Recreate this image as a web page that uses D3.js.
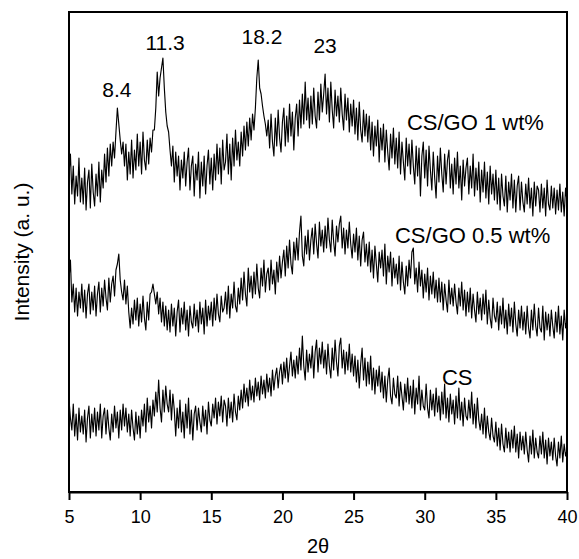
<!DOCTYPE html>
<html>
<head>
<meta charset="utf-8">
<script src="https://cdn.jsdelivr.net/npm/d3@7"></script>
<style>
  body { margin: 0; background: #fff; }
  text { font-family: "Liberation Sans", Arial, sans-serif; fill: #000; }
</style>
</head>
<body>
<div id="chart"></div>
<script>
// Scan Settings (2theta Grid)
const scanStart = 5;
const scanStep = 0.1;

// Intensity (a. u.) of Each Pattern, Already Stacked, One Row per Degree
const cs = [
  92, 74, 62, 88, 56, 78, 52, 84, 60, 76,
  58, 82, 50, 74, 86, 54, 78, 60, 84, 56,
  80, 62, 88, 54, 76, 84, 58, 82, 64, 52,
  78, 60, 86, 64, 80, 54, 82, 62, 88, 66,
  84, 60, 78, 56, 82, 64, 52, 80, 58, 76,
  54, 82, 66, 88, 60, 94, 70, 86, 64, 92,
  76, 100, 80, 112, 84, 70, 102, 80, 106, 88,
  80, 102, 72, 98, 82, 56, 84, 64, 92, 60,
  80, 54, 88, 64, 94, 58, 82, 52, 78, 86,
  62, 84, 70, 60, 86, 66, 82, 58, 90, 72,
  66, 88, 74, 94, 68, 90, 76, 96, 70, 92,
  86, 66, 94, 74, 90, 70, 98, 80, 72, 96,
  82, 102, 84, 108, 90, 104, 86, 112, 92, 106,
  90, 114, 96, 110, 92, 116, 98, 112, 94, 118,
  100, 114, 96, 122, 102, 116, 124, 104, 120, 128,
  108, 130, 114, 134, 110, 126, 140, 116, 132, 114,
  136, 118, 144, 122, 156, 126, 112, 142, 120, 138,
  124, 146, 114, 140, 152, 120, 144, 128, 150, 124,
  142, 118, 148, 126, 114, 144, 122, 152, 130, 116,
  146, 154, 124, 142, 118, 140, 122, 148, 120, 138,
  116, 136, 110, 132, 104, 128, 144, 112, 134, 106,
  130, 108, 136, 102, 124, 98, 122, 106, 126, 100,
  120, 94, 116, 90, 112, 124, 96, 88, 114, 98,
  94, 116, 86, 110, 96, 82, 108, 90, 114, 88,
  106, 84, 112, 78, 104, 88, 116, 82, 102, 86,
  82, 108, 84, 74, 102, 82, 98, 76, 104, 80,
  96, 72, 100, 78, 108, 74, 94, 70, 98, 78,
  92, 68, 96, 74, 104, 72, 90, 66, 94, 76,
  72, 92, 74, 100, 68, 88, 64, 94, 72, 62,
  78, 58, 84, 54, 76, 60, 52, 74, 56, 50,
  70, 46, 64, 42, 68, 48, 40, 64, 44, 60,
  40, 62, 44, 66, 40, 58, 34, 60, 42, 56,
  38, 60, 42, 30, 56, 38, 62, 34, 54, 40,
  34, 56, 38, 60, 34, 52, 28, 54, 36, 50,
  32, 54, 36, 26, 50, 34, 56, 30, 48, 36,
  42
];

const csGo05 = [
  212, 232, 190, 208, 180, 204, 176, 200, 184, 208,
  180, 202, 174, 198, 208, 178, 200, 182, 206, 176,
  198, 210, 180, 204, 186, 212, 194, 182, 214, 190,
  208, 216, 196, 222, 228, 238, 212, 200, 192, 212,
  188, 206, 180, 164, 184, 168, 192, 172, 194, 166,
  188, 170, 196, 174, 162, 190, 172, 198, 200, 208,
  198, 188, 200, 178, 194, 170, 190, 166, 186, 162,
  182, 160, 188, 166, 184, 156, 180, 192, 160, 184,
  168, 190, 162, 182, 156, 186, 170, 164, 188, 166,
  182, 160, 190, 168, 184, 158, 192, 166, 186, 172,
  190, 166, 194, 172, 198, 178, 170, 196, 180, 184,
  200, 178, 206, 174, 198, 184, 210, 186, 180, 204,
  188, 214, 192, 220, 198, 186, 224, 200, 216, 194,
  220, 198, 228, 204, 194, 224, 206, 232, 200, 218,
  224, 202, 232, 208, 222, 198, 230, 210, 236, 214,
  230, 242, 216, 246, 224, 252, 228, 218, 250, 232,
  254, 232, 260, 276, 236, 226, 256, 238, 262, 232,
  252, 264, 238, 268, 248, 234, 270, 246, 262, 240,
  266, 244, 274, 252, 240, 272, 250, 236, 266, 250,
  268, 276, 244, 264, 238, 262, 244, 270, 248, 234,
  258, 240, 264, 232, 256, 226, 252, 260, 230, 248,
  226, 250, 220, 242, 214, 246, 228, 210, 240, 224,
  242, 216, 248, 208, 236, 220, 240, 206, 234, 214,
  228, 208, 236, 202, 230, 210, 198, 226, 206, 232,
  214, 240, 244, 208, 224, 200, 230, 206, 222, 194,
  218, 200, 224, 192, 216, 198, 220, 194, 212, 190,
  214, 190, 210, 182, 208, 192, 180, 212, 188, 204,
  186, 208, 190, 178, 204, 186, 210, 182, 202, 176,
  200, 180, 204, 174, 198, 182, 170, 200, 178, 194,
  172, 198, 178, 202, 168, 192, 174, 164, 194, 176,
  170, 190, 162, 186, 168, 194, 164, 182, 158, 188,
  166, 184, 160, 190, 168, 156, 182, 164, 186, 162,
  180, 158, 186, 164, 154, 182, 162, 188, 166, 156,
  184, 164, 160, 186, 152, 180, 162, 178, 156, 182,
  166, 154, 180, 160, 186, 158, 176, 152, 182, 164,
  172
];

const csGo1 = [
  318, 338, 298, 326, 288, 316, 296, 334, 290, 314,
  288, 324, 282, 310, 322, 284, 328, 300, 286, 318,
  296, 330, 290, 322, 304, 338, 310, 344, 316, 348,
  326, 350, 334, 360, 384, 368, 352, 338, 350, 326,
  348, 312, 340, 318, 352, 314, 342, 322, 358, 326,
  350, 318, 360, 332, 322, 352, 328, 354, 340, 362,
  362, 384, 420, 396, 414, 424, 434, 404, 380, 366,
  360, 342, 326, 346, 310, 340, 316, 336, 302, 332,
  314, 340, 306, 330, 344, 302, 326, 336, 296, 328,
  312, 340, 294, 330, 306, 336, 298, 326, 342, 308,
  334, 302, 338, 312, 348, 318, 344, 308, 352, 322,
  330, 358, 318, 348, 312, 354, 326, 362, 332, 350,
  326, 360, 336, 366, 342, 370, 346, 374, 352, 378,
  362, 384, 414, 432, 404, 398, 386, 376, 368, 356,
  372, 344, 378, 350, 336, 374, 346, 382, 354, 340,
  370, 384, 346, 376, 350, 388, 356, 380, 342, 374,
  388, 356, 392, 364, 398, 368, 410, 372, 394, 364,
  396, 368, 404, 376, 364, 400, 372, 408, 380, 398,
  418, 378, 404, 370, 410, 382, 364, 402, 376, 396,
  370, 404, 378, 362, 398, 372, 394, 360, 388, 366,
  392, 358, 384, 352, 390, 362, 350, 382, 356, 378,
  350, 376, 342, 370, 336, 366, 346, 372, 330, 364,
  342, 368, 330, 362, 340, 322, 358, 334, 364, 328,
  354, 324, 360, 318, 350, 330, 312, 354, 326, 348,
  318, 352, 326, 308, 346, 316, 344, 296, 336, 350,
  314, 342, 306, 346, 322, 302, 340, 314, 294, 336,
  310, 344, 318, 300, 338, 308, 332, 342, 304, 328,
  298, 334, 308, 340, 304, 326, 292, 332, 306, 324,
  334, 298, 326, 304, 338, 296, 324, 302, 330, 290,
  322, 300, 330, 294, 320, 288, 326, 298, 318, 292,
  322, 288, 314, 282, 318, 296, 286, 316, 280, 310,
  292, 318, 284, 312, 280, 306, 316, 282, 310, 290,
  280, 308, 288, 314, 284, 304, 276, 310, 286, 306,
  302, 280, 308, 284, 304, 276, 312, 288, 282, 306,
  284, 304, 278, 302, 282, 308, 280, 300, 276, 304,
  290
];

// Tick Values on the 2theta Axis
const xTicks = [5, 10, 15, 20, 25, 30, 35, 40];

// Peak Labels: Text, 2theta and Intensity Where They Sit
const peakText = ["8.4", "11.3", "18.2", "23"];
const peakAngle = [8.37, 11.75, 18.56, 23.0];
const peakLevel = [395, 442, 448, 439];

// Pattern Names: Text, Start Angle and Intensity
const sampleText = ["CS/GO 1 wt%", "CS/GO 0.5 wt%", "CS"];
const sampleAngle = [28.75, 27.91, 31.21];
const sampleLevel = [362, 249, 107];

// Define the Size of the SVG Container and Plot Box
const width = 579;
const height = 559;
const plotLeft = 69, plotRight = 567, plotTop = 12, plotBottom = 492;

// Create the SVG Container
const svg = d3.select("#chart")
  .append("svg")
  .attr("width", width)
  .attr("height", height);

// Define X and Y Scales
const xScale = d3.scaleLinear()
  .domain([5, 40])
  .range([plotLeft, plotRight]);

const yScale = d3.scaleLinear()
  .domain([0, 480])
  .range([plotBottom, plotTop]);

// Draw the Three Patterns
const line = d3.line()
  .x((d, i) => xScale(scanStart + i * scanStep))
  .y(d => yScale(d));

[cs, csGo05, csGo1].forEach(series => {
  svg.append("path")
    .datum(series)
    .attr("d", line)
    .attr("fill", "none")
    .attr("stroke", "#000")
    .attr("stroke-width", 1.15)
    .attr("stroke-linejoin", "round");
});

// Plot Frame
svg.append("rect")
  .attr("x", plotLeft)
  .attr("y", plotTop)
  .attr("width", plotRight - plotLeft)
  .attr("height", plotBottom - plotTop)
  .attr("fill", "none")
  .attr("stroke", "#000")
  .attr("stroke-width", 2);

// Bottom Axis
const xAxis = svg.append("g")
  .attr("transform", "translate(0," + plotBottom + ")")
  .call(d3.axisBottom(xScale).tickValues(xTicks).tickSize(8).tickSizeOuter(0));

xAxis.select(".domain").attr("stroke-width", 2);
xAxis.selectAll(".tick line").attr("stroke-width", 2);
xAxis.selectAll(".tick text")
  .attr("y", 31)
  .attr("dy", 0)
  .style("font-size", "18px")
  .style("font-family", "'Liberation Sans', Arial, sans-serif");

// Axis Titles
svg.append("text")
  .attr("x", (plotLeft + plotRight) / 2)
  .attr("y", 553)
  .attr("text-anchor", "middle")
  .style("font-size", "20px")
  .text("2θ");

svg.append("text")
  .attr("transform", "translate(29," + (plotTop + plotBottom) / 2 + ") rotate(-90)")
  .attr("text-anchor", "middle")
  .style("font-size", "21px")
  .text("Intensity (a. u.)");

// Peak Labels
svg.selectAll(".peak")
  .data(peakText)
  .enter()
  .append("text")
  .attr("class", "peak")
  .attr("x", (d, i) => xScale(peakAngle[i]))
  .attr("y", (d, i) => yScale(peakLevel[i]))
  .attr("text-anchor", "middle")
  .style("font-size", "21px")
  .text(d => d);

// Pattern Names
svg.selectAll(".sample")
  .data(sampleText)
  .enter()
  .append("text")
  .attr("class", "sample")
  .attr("x", (d, i) => xScale(sampleAngle[i]))
  .attr("y", (d, i) => yScale(sampleLevel[i]))
  .style("font-size", "22px")
  .text(d => d);
</script>
</body>
</html>
